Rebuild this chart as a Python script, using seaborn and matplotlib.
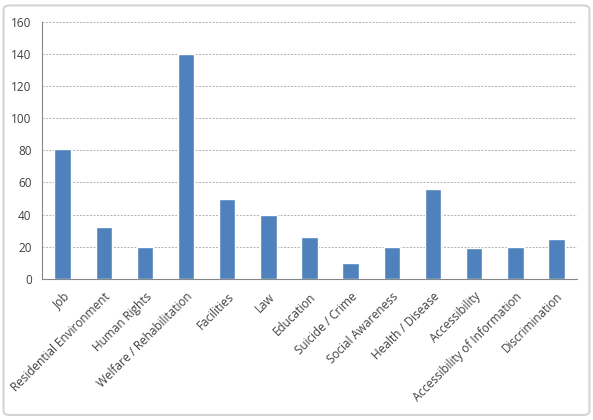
import numpy as np
import pandas as pd
import matplotlib
matplotlib.use("Agg")
import matplotlib.pyplot as plt
import seaborn as sns
from matplotlib.patches import FancyBboxPatch

categories = ["Job", "Residential Environment", "Human Rights", "Welfare / Rehabilitation",
              "Facilities", "Law", "Education", "Suicide / Crime", "Social Awareness",
              "Health / Disease", "Accessibility", "Accessibility of Information", "Discrimination"]
counts = [81, 32, 20, 140, 50, 40, 26, 10, 20, 56, 19, 20, 25]
yticks = [0, 20, 40, 60, 80, 100, 120, 140, 160]

df = pd.DataFrame({"category": categories, "count": counts})

sns.set_style("white")
plt.rcParams['font.family'] = ['Open Sans', 'DejaVu Sans']

fig = plt.figure(figsize=(5.93, 4.2), dpi=100)
ax = fig.add_axes([0.071, 0.336, 0.902, 0.612])

# outer chart frame
fig.patches.append(FancyBboxPatch((0.006, 0.012), 0.988, 0.975, boxstyle="round,pad=0,rounding_size=0.01",
                                  transform=fig.transFigure, fill=False, edgecolor="#d4d4d4", linewidth=1.5))

sns.barplot(data=df, x="category", y="count", color="#4F81BD", width=0.4, saturation=1, ax=ax, zorder=3)

ax.set_ylim(0, 160)
ax.set_yticks(yticks)
ax.yaxis.grid(True, linestyle=(0, (2, 1.5)), color="#b0b0b0", linewidth=0.7, zorder=0)
ax.set_xlim(-0.5, len(categories) - 0.5)
ax.set_xlabel("")
ax.set_ylabel("")

for s in ["top", "right"]:
    ax.spines[s].set_visible(False)
for s in ["left", "bottom"]:
    ax.spines[s].set_color("#868686")
    ax.spines[s].set_linewidth(0.8)

# ticks between categories like excel
ax.set_xticks(np.arange(len(categories)))
ax.set_xticks(np.arange(-0.5, len(categories)), minor=True)
ax.tick_params(axis="x", which="major", length=0, pad=8)
ax.tick_params(axis="x", which="minor", length=4, color="#868686", direction="out")
ax.tick_params(axis="y", length=4, color="#868686", direction="out", labelsize=8.5, colors="#404040")
ax.set_xticklabels(categories, rotation=45, ha="right", rotation_mode="anchor", fontsize=8.5, color="#404040")
for lbl in ax.get_xticklabels():
    lbl.set_x(lbl.get_position()[0])

fig.savefig("out.png", dpi=100)
